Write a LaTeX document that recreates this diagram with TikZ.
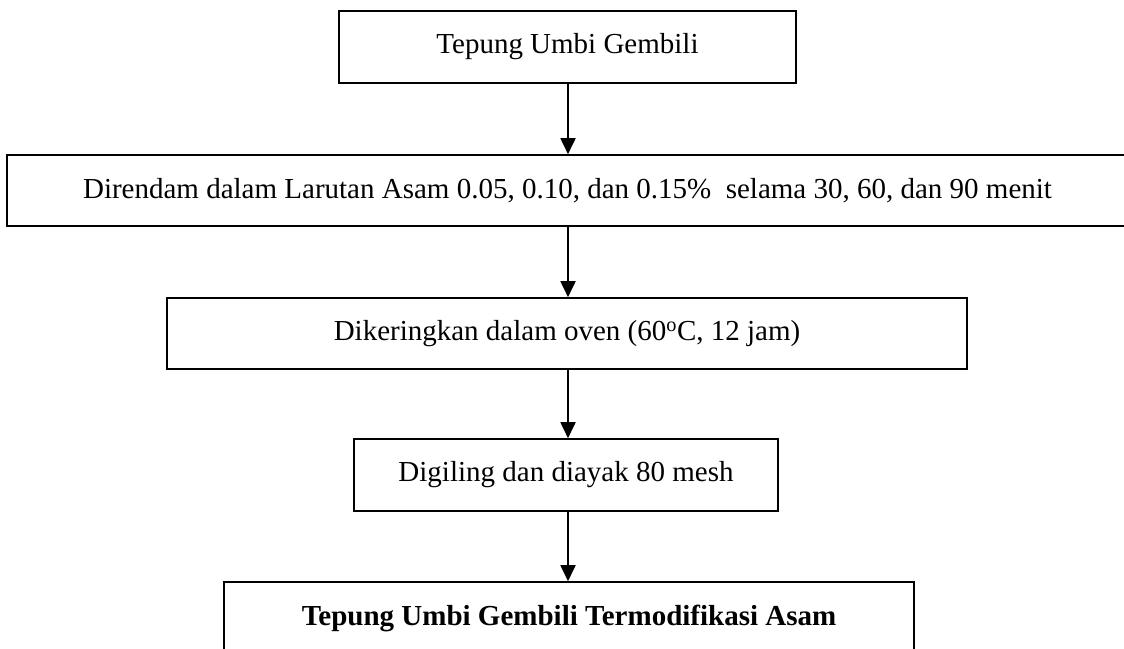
\documentclass[tikz,border=0pt]{standalone}
\usepackage{fontspec}
\setmainfont{Liberation Serif}
\usetikzlibrary{arrows.meta}
\begin{document}
\begin{tikzpicture}[x=1pt,y=-1pt,
  procbox/.style={draw=black,line width=1.6pt,rectangle,inner sep=0pt,align=center,
    font=\fontsize{29}{35}\selectfont},
  arr/.style={line width=1.8pt,-{Triangle[width=15pt,length=16pt]}}]
\useasboundingbox (0,0) rectangle (1124,648);
\fill[white] (0,0) rectangle (1124,648);
\coordinate (ax) at (568,0);
\node[procbox,line width=2.2pt,minimum width=457pt,minimum height=72pt] (b1) at (567.5,47) {Tepung Umbi Gembili};
\node[procbox,minimum width=1121pt,minimum height=71pt] (b2) at (567.5,190.5) {Direndam dalam Larutan Asam 0.05, 0.10, dan 0.15\%\ \ selama 30, 60, dan 90 menit};
\node[procbox,minimum width=800pt,minimum height=71pt] (b3) at (567,333.5) {Dikeringkan dalam oven (60\textsuperscript{o}C, 12 jam)};
\node[procbox,minimum width=424pt,minimum height=72pt] (b4) at (566,475) {Digiling dan diayak 80 mesh};
\node[procbox,minimum width=690pt,minimum height=72pt,font=\fontsize{29}{35}\selectfont\bfseries] (b5) at (569,618) {Tepung Umbi Gembili Termodifikasi Asam};
\draw[arr] (b1.south -| ax) -- (b2.north -| ax);
\draw[arr] (b2.south -| ax) -- (b3.north -| ax);
\draw[arr] (b3.south -| ax) -- (b4.north -| ax);
\draw[arr] (b4.south -| ax) -- (b5.north -| ax);
\end{tikzpicture}
\end{document}
